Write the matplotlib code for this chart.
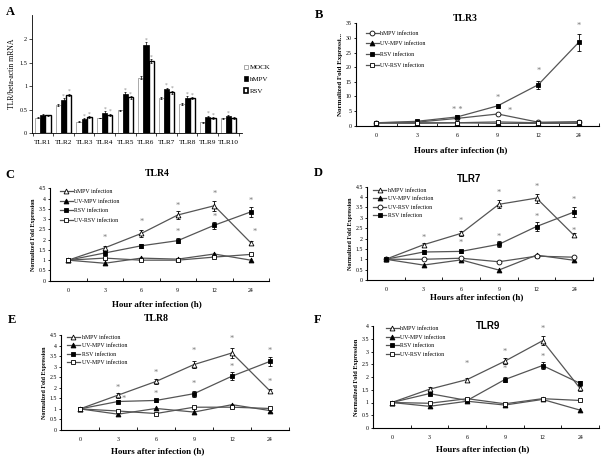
import numpy as np
import matplotlib
matplotlib.use("Agg")
import matplotlib.pyplot as plt
from matplotlib.patches import Patch

plt.rcParams['font.family'] = ['Liberation Serif', 'DejaVu Serif']

W, H = 612, 459

# ---------------- data ----------------
tlrs = ['TLR1', 'TLR2', 'TLR3', 'TLR4', 'TLR5', 'TLR6', 'TLR7', 'TLR8', 'TLR9', 'TLR10']
mock = [0.33, 0.59, 0.24, 0.32, 0.49, 1.18, 0.75, 0.62, 0.23, 0.31]
hmpv = [0.38, 0.70, 0.30, 0.43, 0.83, 1.87, 0.93, 0.75, 0.34, 0.36]
rsv = [0.38, 0.81, 0.34, 0.39, 0.76, 1.54, 0.87, 0.74, 0.32, 0.32]
mock_err = [0.01, 0.02, 0.01, 0.01, 0.01, 0.03, 0.02, 0.03, 0.01, 0.01]
hmpv_err = [0.02, 0.04, 0.02, 0.03, 0.04, 0.07, 0.04, 0.04, 0.03, 0.02]
rsv_err = [0.01, 0.03, 0.02, 0.02, 0.03, 0.04, 0.03, 0.02, 0.02, 0.02]
hmpv_star = [0, 1, 1, 1, 1, 1, 1, 1, 1, 1]
rsv_star = [0, 1, 1, 1, 1, 1, 1, 1, 1, 0]

hours = ['0', '3', '6', '9', '12', '24']

# panel B, TLR3
b_hmpv = [1.0, 1.2, 2.5, 4.0, 1.2, 1.2]
b_uvmpv = [0.9, 0.8, 1.0, 0.8, 0.8, 0.8]
b_rsv = [1.0, 1.5, 3.0, 6.8, 14.0, 28.5]
b_rsv_err = [0.3, 0.4, 0.5, 0.6, 1.4, 3.0]
b_uvrsv = [1.0, 1.0, 1.0, 1.3, 1.0, 1.4]
b_stars = [(2, 5.3, '* *'), (3, 9.4, '*'), (3.3, 5.0, '*'), (4, 18.6, '*'), (5, 34.0, '*')]

# panel C, TLR4
c_hmpv = [1.0, 1.6, 2.3, 3.2, 3.65, 1.85]
c_hmpv_err = [0.05, 0.1, 0.15, 0.2, 0.25, 0.1]
c_uvmpv = [1.0, 0.85, 1.1, 1.05, 1.3, 1.0]
c_rsv = [1.0, 1.35, 1.7, 1.95, 2.7, 3.35]
c_rsv_err = [0.05, 0.1, 0.1, 0.12, 0.18, 0.25]
c_uvrsv = [1.0, 1.1, 1.0, 1.0, 1.15, 1.28]
c_stars = [(1, 2.07, '*'), (2, 2.88, '*'), (3, 3.64, '*'), (3, 2.39, '*'),
           (4, 4.21, '*'), (4, 3.12, '*'), (5, 3.9, '*'), (5.1, 2.36, '*')]

# panel D, TLR7
d_hmpv = [1.0, 1.7, 2.25, 3.65, 3.95, 2.15]
d_hmpv_err = [0.05, 0.1, 0.12, 0.2, 0.22, 0.1]
d_uvmpv = [1.0, 0.72, 0.97, 0.48, 1.2, 0.95]
d_uvrsv = [1.0, 1.0, 1.05, 0.88, 1.15, 1.1]
d_rsv = [1.0, 1.35, 1.38, 1.72, 2.58, 3.28]
d_rsv_err = [0.05, 0.1, 0.08, 0.15, 0.2, 0.25]
d_stars = [(1, 2.01, '*'), (2, 2.85, '*'), (2, 1.77, '*'), (3, 4.18, '*'), (3, 2.06, '*'),
           (4, 4.47, '*'), (4, 3.05, '*'), (5, 3.86, '*'), (5, 2.38, '*')]

# panel E, TLR8
e_hmpv = [1.0, 1.65, 2.3, 3.1, 3.65, 1.85]
e_hmpv_err = [0.05, 0.12, 0.12, 0.18, 0.22, 0.1]
e_uvmpv = [1.0, 0.75, 1.02, 0.85, 1.2, 0.92]
e_rsv = [1.0, 1.35, 1.4, 1.72, 2.55, 3.25]
e_rsv_err = [0.05, 0.08, 0.06, 0.14, 0.18, 0.2]
e_uvrsv = [1.0, 0.9, 0.78, 1.08, 1.08, 1.02]
e_stars = [(1, 2.0, '*'), (1.15, 1.45, '*'), (2, 2.72, '*'), (2, 1.72, '*'), (3, 3.76, '*'),
           (3, 2.17, '*'), (4, 4.3, '*'), (4, 3.0, '*'), (5, 3.76, '*'), (5, 2.29, '*')]

# panel F, TLR9
f_hmpv = [1.0, 1.52, 1.9, 2.62, 3.42, 1.55]
f_hmpv_err = [0.05, 0.08, 0.08, 0.12, 0.18, 0.08]
f_uvmpv = [1.0, 0.85, 1.05, 0.9, 1.12, 0.7]
f_rsv = [1.0, 1.35, 1.08, 1.9, 2.45, 1.75]
f_rsv_err = [0.04, 0.06, 0.06, 0.1, 0.12, 0.08]
f_uvrsv = [1.0, 0.97, 1.15, 0.95, 1.15, 1.08]
f_stars = [(2, 2.51, '*'), (3, 2.99, '*'), (3, 2.31, '*'), (4, 3.87, '*'), (4, 2.77, '*')]

LINE = '#555555'


def axes_px(left, right, top, bottom):
    return [left / W, 1 - bottom / H, (right - left) / W, (bottom - top) / H]


def ftext(x, y, s, **kw):
    fig.text(x / W, 1 - y / H, s, **kw)


def style_axes(ax, xlim, ylim, yticks):
    x = np.arange(len(hours))
    ax.set_xlim(*xlim)
    ax.set_ylim(*ylim)
    ax.set_xticks(x)
    ax.set_xticklabels(hours, fontsize=4.2)
    ax.set_xticks(np.arange(-0.5, 5.6, 1), minor=True)
    ax.tick_params(axis='x', which='major', length=0, pad=5)
    ax.tick_params(axis='x', which='minor', length=2, direction='in', width=0.6)
    ax.set_yticks(yticks)
    ax.set_yticklabels([('%g' % v) for v in yticks], fontsize=4.2)
    ax.tick_params(axis='y', length=1.5, width=0.6, pad=1.5)
    for s in ['top', 'right']:
        ax.spines[s].set_visible(False)
    for s in ['left', 'bottom']:
        ax.spines[s].set_linewidth(0.8)


def draw_series(ax, vals, marker, filled, label, err=None):
    x = np.arange(len(vals))
    fc = 'black' if filled else 'white'
    ax.plot(x, vals, color=LINE, lw=0.9, marker=marker, ms=3.5,
            mfc=fc, mec='black', mew=0.6, label=label, zorder=3)
    if err is not None:
        ax.errorbar(x, vals, yerr=err, fmt='none', ecolor='black',
                    elinewidth=0.6, capsize=1.5, capthick=0.6, zorder=2)


def draw_stars(ax, stars, size=6):
    for xi, yv, s in stars:
        ax.text(xi, yv, s, ha='center', va='center', fontsize=size, color='#777777')


def legend(ax, x, y, spacing):
    ax.legend(loc='upper left', bbox_to_anchor=(x, y), frameon=False, fontsize=4.2,
              handlelength=2.2, handletextpad=0.3, labelspacing=spacing, borderpad=0,
              borderaxespad=0)


fig = plt.figure(figsize=(W / 100, H / 100), dpi=100)

# ---------------- A ----------------
axA = fig.add_axes(axes_px(32, 242, 15, 133))
gx = np.arange(len(tlrs))
bw = 0.25
axA.bar(gx - bw, mock, bw, yerr=mock_err, color='white', edgecolor='#888888', lw=0.5,
        error_kw=dict(elinewidth=0.5, capsize=1, capthick=0.5))
axA.bar(gx, hmpv, bw, yerr=hmpv_err, color='black', edgecolor='black', lw=0.5,
        error_kw=dict(elinewidth=0.5, capsize=1, capthick=0.5))
axA.bar(gx + bw, rsv, bw, yerr=rsv_err, color='white', edgecolor='black', lw=1.0,
        error_kw=dict(elinewidth=0.5, capsize=1, capthick=0.5))
for i in range(len(tlrs)):
    if hmpv_star[i]:
        axA.text(gx[i], hmpv[i] + hmpv_err[i] + 0.05, '*', ha='center', va='center',
                 fontsize=4, color='#888888')
    if rsv_star[i]:
        axA.text(gx[i] + bw, rsv[i] + rsv_err[i] + 0.05, '*', ha='center', va='center',
                 fontsize=4, color='#888888')
axA.set_xlim(-0.53, 9.66)
axA.set_ylim(0, 2.52)
axA.set_yticks([0, 0.5, 1, 1.5, 2])
axA.set_yticklabels(['0', '0.5', '1', '1.5', '2'], fontsize=4.5)
axA.set_xticks(gx)
axA.set_xticklabels(tlrs, fontsize=5.2)
axA.set_xticks(np.arange(-0.5, 9.6, 1), minor=True)
axA.tick_params(axis='x', which='major', length=0, pad=5)
axA.tick_params(axis='x', which='minor', length=2, width=0.5)
axA.tick_params(axis='y', length=2, width=0.5, pad=1.5)
for s in ['top', 'right']:
    axA.spines[s].set_visible(False)
for s in ['left', 'bottom']:
    axA.spines[s].set_linewidth(0.6)
axA.set_ylabel('TLR/beta-actin mRNA', fontsize=5.5, labelpad=2)
handles = [Patch(facecolor='white', edgecolor='#888888', lw=0.5),
           Patch(facecolor='black', edgecolor='black', lw=0.5),
           Patch(facecolor='white', edgecolor='black', lw=1.2)]
axA.legend(handles, ['MOCK', 'hMPV', 'RSV'], loc='upper left', bbox_to_anchor=(1.01, 0.58),
           frameon=False, fontsize=5, handlelength=0.6, handleheight=0.6,
           handletextpad=0.2, labelspacing=0.9, borderpad=0, borderaxespad=0)

# ---------------- B ----------------
axB = fig.add_axes(axes_px(356, 599, 23.3, 125.7))
draw_series(axB, b_hmpv, 'o', False, 'hMPV infection')
draw_series(axB, b_uvmpv, '^', True, 'UV-MPV infection')
draw_series(axB, b_rsv, 's', True, 'RSV infection', b_rsv_err)
draw_series(axB, b_uvrsv, 's', False, 'UV-RSV infection')
style_axes(axB, (-0.49, 5.49), (0, 35), [0, 5, 10, 15, 20, 25, 30, 35])
draw_stars(axB, b_stars)
legend(axB, 0.04, 0.93, 1.0)
axB.set_ylabel('Normalized Fold Expressi...', fontsize=5, fontweight='bold', labelpad=2)
axB.text(0.45, 1.05, 'TLR3', transform=axB.transAxes, ha='center', va='center',
         fontsize=7, fontweight='bold')

# ---------------- C ----------------
axC = fig.add_axes(axes_px(50, 269, 188.3, 280.7))
draw_series(axC, c_hmpv, '^', False, 'hMPV infection', c_hmpv_err)
draw_series(axC, c_uvmpv, '^', True, 'UV-MPV infection')
draw_series(axC, c_rsv, 's', True, 'RSV infection', c_rsv_err)
draw_series(axC, c_uvrsv, 's', False, 'UV-RSV infection')
style_axes(axC, (-0.47, 5.26), (0, 4.5), [0, 0.5, 1, 1.5, 2, 2.5, 3, 3.5, 4, 4.5])
draw_stars(axC, c_stars)
legend(axC, 0.045, 0.99, 0.75)
axC.set_ylabel('Normalized Fold Expression', fontsize=4.3, fontweight='bold', labelpad=2)
axC.text(0.49, 1.16, 'TLR4', transform=axC.transAxes, ha='center', va='center',
         fontsize=7, fontweight='bold')

# ---------------- D ----------------
axD = fig.add_axes(axes_px(367, 593, 186.7, 280))
draw_series(axD, d_hmpv, '^', False, 'hMPV infection', d_hmpv_err)
draw_series(axD, d_uvmpv, '^', True, 'UV-MPV infection')
draw_series(axD, d_uvrsv, 'o', False, 'UV-RSV infection')
draw_series(axD, d_rsv, 's', True, 'RSV infection', d_rsv_err)
style_axes(axD, (-0.41, 5.35), (0, 4.5), [0, 0.5, 1, 1.5, 2, 2.5, 3, 3.5, 4, 4.5])
draw_stars(axD, d_stars)
legend(axD, 0.027, 0.99, 0.6)
axD.set_ylabel('Normalized Fold Expression', fontsize=4.3, fontweight='bold', labelpad=2)
axD.text(0.45, 1.08, 'TLR7', transform=axD.transAxes, ha='center', va='center',
         fontsize=7, fontweight='bold', family='Liberation Sans')

# ---------------- E ----------------
axE = fig.add_axes(axes_px(61, 289, 335, 430))
draw_series(axE, e_hmpv, '^', False, 'hMPV infection', e_hmpv_err)
draw_series(axE, e_uvmpv, '^', True, 'UV-MPV infection')
draw_series(axE, e_rsv, 's', True, 'RSV infection', e_rsv_err)
draw_series(axE, e_uvrsv, 's', False, 'UV-MPV infection')
style_axes(axE, (-0.3, 5.45), (0, 4.5), [0, 0.5, 1, 1.5, 2, 2.5, 3, 3.5, 4, 4.5])
draw_stars(axE, e_stars)
legend(axE, 0.026, 1.0, 0.55)
axE.set_ylabel('Normalized Fold Expression', fontsize=4.3, fontweight='bold', labelpad=2)
axE.text(0.42, 1.17, 'TLR8', transform=axE.transAxes, ha='center', va='center',
         fontsize=7, fontweight='bold')

# ---------------- F ----------------
axF = fig.add_axes(axes_px(373, 599, 326, 428))
draw_series(axF, f_hmpv, '^', False, 'hMPV infection', f_hmpv_err)
draw_series(axF, f_uvmpv, '^', True, 'UV-MPV infection')
draw_series(axF, f_rsv, 's', True, 'RSV infection', f_rsv_err)
draw_series(axF, f_uvrsv, 's', False, 'UV-RSV infection')
style_axes(axF, (-0.49, 5.33), (0, 4), [0, 0.5, 1, 1.5, 2, 2.5, 3, 3.5, 4])
draw_stars(axF, f_stars)
legend(axF, 0.057, 1.0, 0.6)
axF.set_ylabel('Normalized Fold Expression', fontsize=4.6, fontweight='bold', labelpad=2)
axF.text(0.51, 1.0, 'TLR9', transform=axF.transAxes, ha='center', va='center',
         fontsize=7, fontweight='bold', family='Liberation Sans')

# x labels and panel letters
ftext(461, 150, 'Hours after infection (h)', ha='center', va='center', fontsize=6.5, fontweight='bold')
ftext(157, 304, 'Hour after infection (h)', ha='center', va='center', fontsize=6.5, fontweight='bold')
ftext(477, 297, 'Hours after infection (h)', ha='center', va='center', fontsize=6.5, fontweight='bold')
ftext(158, 451, 'Hours after infection (h)', ha='center', va='center', fontsize=6.5, fontweight='bold')
ftext(483, 449, 'Hours after infection (h)', ha='center', va='center', fontsize=6.5, fontweight='bold')

for lx, ly, s in [(10, 12, 'A'), (319, 15, 'B'), (10, 175, 'C'), (318, 173, 'D'), (12, 320, 'E'), (318, 320, 'F')]:
    ftext(lx, ly, s, ha='center', va='center', fontsize=9, fontweight='bold')

fig.savefig('out.png', dpi=100)
